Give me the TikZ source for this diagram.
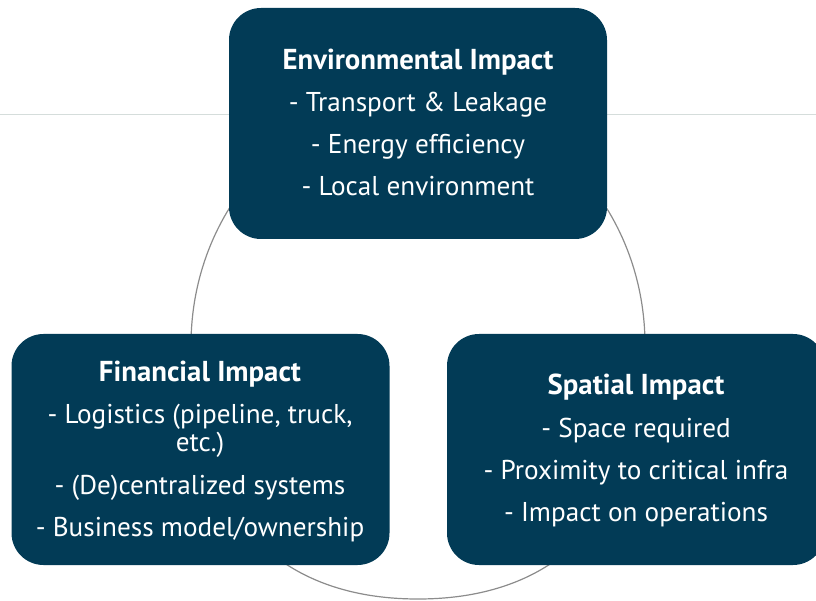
\documentclass[tikz,border=0pt]{standalone}
\usepackage{fontspec}
\setmainfont{PT Sans}
\definecolor{boxblue}{HTML}{023B56}
\definecolor{ringgray}{HTML}{8C8C8C}
\definecolor{rulegray}{HTML}{D5DDDB}
\begin{document}
\begin{tikzpicture}[x=1pt,y=-1pt,
  impactbox/.style={fill=boxblue, draw=none, rounded corners=32pt,
    minimum width=378pt, minimum height=231pt, inner sep=0pt},
  headline/.style={text=white, inner sep=0pt, anchor=base,
    font=\fontsize{28.8}{32}\selectfont\bfseries},
  itemline/.style={text=white, inner sep=0pt, anchor=base,
    font=\fontsize{27.2}{32}\selectfont}]
\useasboundingbox (0,0) rectangle (816,601);
\clip (0,0) rectangle (816,601);

% thin horizontal rule behind the top box
\coordinate (ruleL) at (0,115);
\coordinate (ruleR) at (816,115);
\draw[rulegray, line width=1pt] (ruleL) -- (ruleR);

% ring linking the three boxes (slightly fuller at the bottom)
\coordinate (ringL) at (191,345);
\coordinate (ringT) at (418,99);
\coordinate (ringR) at (645,345);
\coordinate (ringB) at (418,599);
\draw[ringgray, line width=1.2pt]
  (ringL) .. controls (191,209.2) and (292.7,99) .. (ringT)
          .. controls (543.3,99) and (645,209.2) .. (ringR)
          .. controls (645,508.2) and (563.3,599) .. (ringB)
          .. controls (272.7,599) and (191,508.2) .. (ringL) -- cycle;

% boxes
\node[impactbox] (env) at (418,123.5) {};
\node[impactbox] (fin) at (200.5,449.5) {};
\node[impactbox] (spa) at (636,449.5) {};

% environmental
\node[headline] (envT) at (418,70) {Environmental Impact};
\node[itemline] (env1) at (418,112) {- Transport \& Leakage};
\node[itemline] (env2) at (418,154) {- Energy efficiency};
\node[itemline] (env3) at (418,196) {- Local environment};

% financial
\node[headline] (finT) at (200,381) {Financial Impact};
\node[itemline] (fin1) at (200,423) {- Logistics (pipeline, truck,};
\node[itemline] (fin1b) at (200,451) {etc.)};
\node[itemline] (fin2) at (200,494) {- (De)centralized systems};
\node[itemline] (fin3) at (200,536) {- Business model/ownership};

% spatial
\node[headline] (spaT) at (636,394) {Spatial Impact};
\node[itemline] (spa1) at (636,437) {- Space required};
\node[itemline] (spa2) at (636,479) {- Proximity to critical infra};
\node[itemline] (spa3) at (636,521) {- Impact on operations};
\end{tikzpicture}
\end{document}
